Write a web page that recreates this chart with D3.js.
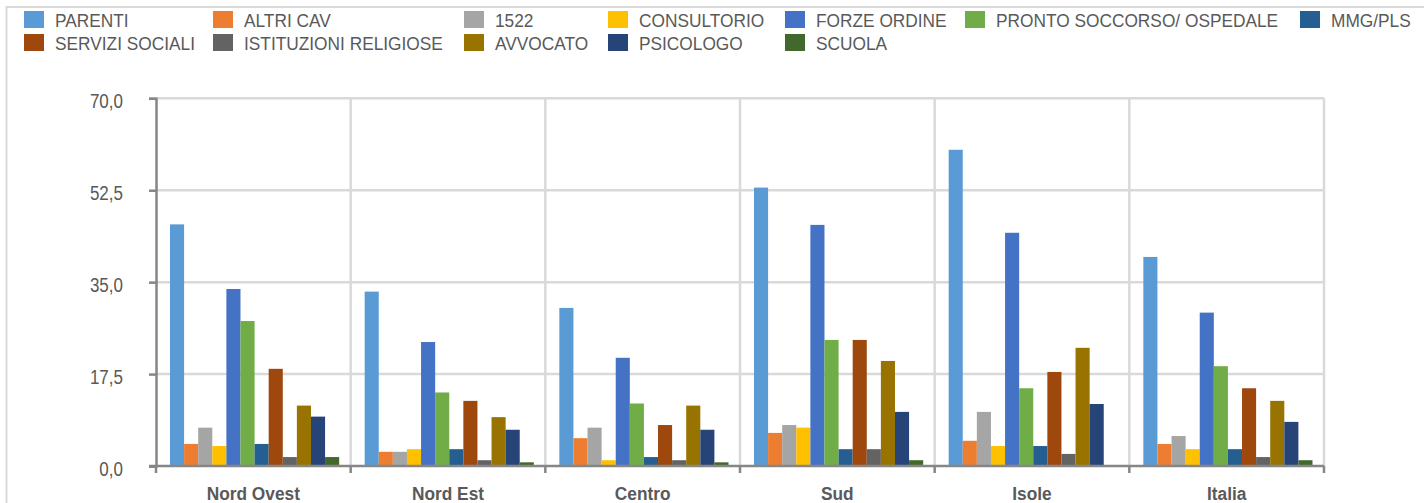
<!DOCTYPE html>
<html>
<head>
<meta charset="utf-8">
<script src="https://cdn.jsdelivr.net/npm/d3@7"></script>
<style>
  html, body { margin: 0; padding: 0; background: #fff; }
  svg { display: block; font-family: "Liberation Sans", Arial, sans-serif; }
</style>
</head>
<body>
<svg id="chart"></svg>
<script>
// data
var regions = ["Nord Ovest", "Nord Est", "Centro", "Sud", "Isole", "Italia"];
var seriesNames = ["PARENTI", "ALTRI CAV", "1522", "CONSULTORIO", "FORZE ORDINE",
  "PRONTO SOCCORSO/ OSPEDALE", "MMG/PLS", "SERVIZI SOCIALI", "ISTITUZIONI RELIGIOSE",
  "AVVOCATO", "PSICOLOGO", "SCUOLA"];
var seriesColors = ["#5B9BD5", "#ED7D31", "#A5A5A5", "#FFC000", "#4472C4", "#70AD47",
  "#255E91", "#9E480E", "#636363", "#997300", "#264478", "#43682B"];

var parenti      = [46.0, 33.2, 30.1, 53.0, 60.2, 39.8];
var altriCav     = [4.2, 2.7, 5.3, 6.3, 4.8, 4.2];
var n1522        = [7.3, 2.7, 7.3, 7.8, 10.3, 5.7];
var consultorio  = [3.8, 3.2, 1.1, 7.3, 3.8, 3.2];
var forzeOrdine  = [33.7, 23.6, 20.6, 45.9, 44.4, 29.2];
var prontoSocc   = [27.6, 14.0, 11.9, 24.0, 14.8, 19.0];
var mmgPls       = [4.2, 3.2, 1.7, 3.2, 3.8, 3.2];
var serviziSoc   = [18.5, 12.4, 7.8, 24.0, 17.9, 14.8];
var istituzioni  = [1.7, 1.1, 1.1, 3.2, 2.3, 1.7];
var avvocato     = [11.5, 9.3, 11.5, 20.0, 22.5, 12.4];
var psicologo    = [9.4, 6.9, 6.9, 10.3, 11.8, 8.4];
var scuola       = [1.7, 0.7, 0.7, 1.1, 0.0, 1.1];

var seriesValues = [parenti, altriCav, n1522, consultorio, forzeOrdine, prontoSocc,
  mmgPls, serviziSoc, istituzioni, avvocato, psicologo, scuola];

var yTicks = [0, 17.5, 35, 52.5, 70];

// layout
var width = 1424, height = 503;
var plotLeft = 156, plotRight = 1324, plotTop = 98.3, plotBottom = 466;
var textColor = "#595959";
var axisColor = "#868686";
var gridColor = "#d9d9d9";
var legendCols = [24, 213, 464, 608, 785, 965, 1300];
var legendRows = [11, 34];

var svg = d3.select("#chart").attr("width", width).attr("height", height);
svg.append("rect").attr("width", width).attr("height", height).attr("fill", "#fff");

// chart frame (partly outside the picture)
svg.append("path")
  .attr("d", "M6.5," + height + "V7H" + width)
  .attr("fill", "none").attr("stroke", gridColor).attr("stroke-width", 2);

var x0 = d3.scaleBand().domain(regions).range([plotLeft, plotRight]).padding(0);
var x1 = d3.scaleBand().domain(seriesNames).range([14, x0.bandwidth() - 11.5]).padding(0);
var y = d3.scaleLinear().domain([0, 70]).range([plotBottom, plotTop]);

// gridlines
var grid = svg.append("g").attr("class", "grid");
grid.selectAll("line.h")
  .data(yTicks.filter(function(d){ return d > 0; }))
  .enter().append("line").attr("class", "h")
  .attr("x1", plotLeft).attr("x2", plotRight)
  .attr("y1", function(d){ return y(d); }).attr("y2", function(d){ return y(d); })
  .attr("stroke", gridColor).attr("stroke-width", 2.5);
grid.selectAll("line.v")
  .data(regions)
  .enter().append("line").attr("class", "v")
  .attr("x1", function(d){ return x0(d) + x0.bandwidth(); })
  .attr("x2", function(d){ return x0(d) + x0.bandwidth(); })
  .attr("y1", plotTop).attr("y2", plotBottom)
  .attr("stroke", gridColor).attr("stroke-width", 2.5);

// bars
var rows = regions.map(function(r, i){
  return { region: r, values: seriesNames.map(function(s, j){
    return { name: s, value: seriesValues[j][i], color: seriesColors[j] };
  }) };
});

svg.append("g").attr("class", "bars")
  .selectAll("g")
  .data(rows)
  .enter().append("g")
  .attr("transform", function(d){ return "translate(" + x0(d.region) + ",0)"; })
  .selectAll("rect")
  .data(function(d){ return d.values; })
  .enter().append("rect")
  .attr("x", function(d){ return x1(d.name); })
  .attr("width", x1.bandwidth())
  .attr("y", function(d){ return y(d.value); })
  .attr("height", function(d){ return plotBottom - y(d.value); })
  .attr("fill", function(d){ return d.color; });

// y axis
var yAxis = svg.append("g")
  .attr("transform", "translate(" + plotLeft + ",0)")
  .call(d3.axisLeft(y).tickValues(yTicks).tickSize(7)
    .tickFormat(function(d){ return d3.format(".1f")(d).replace(".", ","); }));
yAxis.select(".domain").attr("stroke", axisColor).attr("stroke-width", 2.5);
yAxis.selectAll(".tick line").attr("stroke", axisColor).attr("stroke-width", 2.5);
yAxis.selectAll(".tick text")
  .attr("x", 0).attr("dy", null).attr("y", 0)
  .attr("text-anchor", "end")
  .attr("transform", "translate(" + (123 - plotLeft) + ",9.5) scale(0.81,1)")
  .attr("fill", textColor)
  .style("font-size", "21px");

// x axis
var xAxis = svg.append("g").attr("class", "xaxis");
xAxis.append("line")
  .attr("x1", plotLeft - 7).attr("x2", plotRight)
  .attr("y1", plotBottom).attr("y2", plotBottom)
  .attr("stroke", axisColor).attr("stroke-width", 2.5);
xAxis.selectAll("line.tick")
  .data([plotLeft].concat(regions.map(function(d){ return x0(d) + x0.bandwidth(); })))
  .enter().append("line").attr("class", "tick")
  .attr("x1", function(d){ return d; }).attr("x2", function(d){ return d; })
  .attr("y1", plotBottom).attr("y2", plotBottom + 7)
  .attr("stroke", axisColor).attr("stroke-width", 2.5);
xAxis.selectAll("text")
  .data(regions)
  .enter().append("text")
  .attr("text-anchor", "middle")
  .attr("transform", function(d){
    return "translate(" + (x0(d) + x0.bandwidth() / 2) + ",500) scale(0.93,1)";
  })
  .attr("fill", textColor)
  .style("font-size", "18.6px").style("font-weight", "bold")
  .text(function(d){ return d; });

// legend: 7 columns, 2 rows
var legend = svg.append("g").attr("class", "legend")
  .selectAll("g")
  .data(seriesNames)
  .enter().append("g")
  .attr("transform", function(d, i){
    return "translate(" + legendCols[i % 7] + "," + legendRows[Math.floor(i / 7)] + ")";
  });
legend.append("rect")
  .attr("width", 20).attr("height", 17)
  .attr("fill", function(d, i){ return seriesColors[i]; });
legend.append("text")
  .attr("transform", "translate(31,15.8) scale(0.93,1)")
  .attr("fill", textColor)
  .style("font-size", "18.6px")
  .text(function(d){ return d; });
</script>
</body>
</html>
